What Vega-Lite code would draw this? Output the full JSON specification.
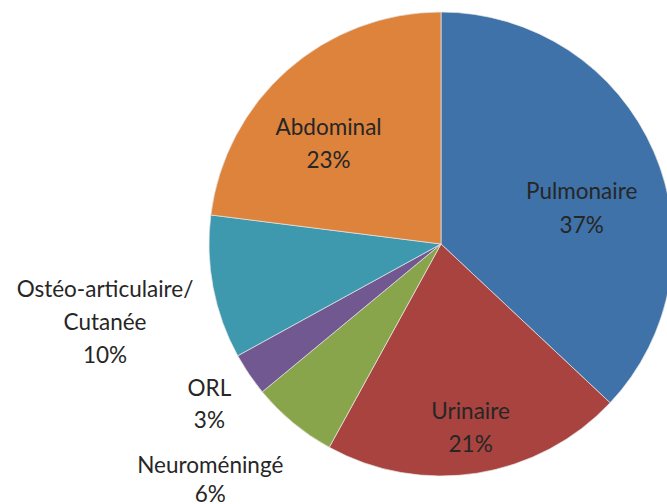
{
  "$schema": "https://vega.github.io/schema/vega-lite/v6.json",
  "autosize": "none",
  "width": 454,
  "height": 462,
  "padding": {"left": 214, "top": 13, "right": 0, "bottom": 29},
  "background": "white",
  "config": {"view": {"stroke": null}},
  "data": {
    "values": [
      {"k": 1, "cat": "Pulmonaire", "line1": "Pulmonaire", "line2": "", "pct": 37},
      {"k": 2, "cat": "Urinaire", "line1": "Urinaire", "line2": "", "pct": 21},
      {"k": 3, "cat": "Neuroméningé", "line1": "Neuroméningé", "line2": "", "pct": 6},
      {"k": 4, "cat": "ORL", "line1": "ORL", "line2": "", "pct": 3},
      {"k": 5, "cat": "Ostéo-articulaire/Cutanée", "line1": "Ostéo-articulaire/", "line2": "Cutanée", "pct": 10},
      {"k": 6, "cat": "Abdominal", "line1": "Abdominal", "line2": "", "pct": 23}
    ]
  },
  "transform": [
    {"stack": "pct", "groupby": [], "sort": [{"field": "k", "order": "ascending"}], "as": ["t0", "t1"]},
    {"calculate": "(datum.t0 + datum.t1) / 2", "as": "tm"},
    {"calculate": "datum.line2 == '' ? [datum.line1, datum.pct + '%'] : [datum.line1, datum.line2, datum.pct + '%']", "as": "label"}
  ],
  "layer": [
    {
      "mark": {"type": "arc", "outerRadius": 232, "stroke": "#e8e8e8", "strokeWidth": 0.7},
      "encoding": {
        "theta": {"field": "t0", "type": "quantitative", "scale": {"domain": [0, 100]}},
        "theta2": {"field": "t1"},
        "color": {
          "field": "cat", "type": "nominal", "legend": null,
          "scale": {
            "domain": ["Pulmonaire", "Urinaire", "Neuroméningé", "ORL", "Ostéo-articulaire/Cutanée", "Abdominal"],
            "range": ["#3F72A8", "#A8433F", "#89A54B", "#715890", "#3E98AE", "#DD833C"]
          }
        }
      }
    },
    {
      "transform": [{"filter": "datum.k == 1"}],
      "mark": {"type": "text", "radius": 150, "font": "Lato", "fontSize": 22.5, "lineHeight": 34, "color": "#262626", "dx": 3, "dy": 8},
      "encoding": {"theta": {"field": "tm", "type": "quantitative", "scale": {"domain": [0, 100]}}, "text": {"field": "label"}}
    },
    {
      "transform": [{"filter": "datum.k == 2"}],
      "mark": {"type": "text", "radius": 170, "font": "Lato", "fontSize": 22.5, "lineHeight": 33, "color": "#262626", "dx": 3},
      "encoding": {"theta": {"field": "tm", "type": "quantitative", "scale": {"domain": [0, 100]}}, "text": {"field": "label"}}
    },
    {
      "transform": [{"filter": "datum.k == 6"}],
      "mark": {"type": "text", "radius": 170, "font": "Lato", "fontSize": 22.5, "lineHeight": 33, "color": "#262626", "dy": 12},
      "encoding": {"theta": {"field": "tm", "type": "quantitative", "scale": {"domain": [0, 100]}}, "text": {"field": "label"}}
    },
    {
      "transform": [{"filter": "datum.k == 3"}],
      "mark": {"type": "text", "radius": 318, "font": "Lato", "fontSize": 22.5, "lineHeight": 29, "color": "#262626", "dx": -28, "dy": -23},
      "encoding": {"theta": {"field": "tm", "type": "quantitative", "scale": {"domain": [0, 100]}}, "text": {"field": "label"}}
    },
    {
      "transform": [{"filter": "datum.k == 4"}],
      "mark": {"type": "text", "radius": 280, "font": "Lato", "fontSize": 22.5, "lineHeight": 32, "color": "#262626", "dy": -12},
      "encoding": {"theta": {"field": "tm", "type": "quantitative", "scale": {"domain": [0, 100]}}, "text": {"field": "label"}}
    },
    {
      "transform": [{"filter": "datum.k == 5"}],
      "mark": {"type": "text", "radius": 340, "font": "Lato", "fontSize": 22.5, "lineHeight": 33, "color": "#262626", "dx": -2, "dy": -18},
      "encoding": {"theta": {"field": "tm", "type": "quantitative", "scale": {"domain": [0, 100]}}, "text": {"field": "label"}}
    }
  ],
  "resolve": {"scale": {"theta": "shared"}}
}
